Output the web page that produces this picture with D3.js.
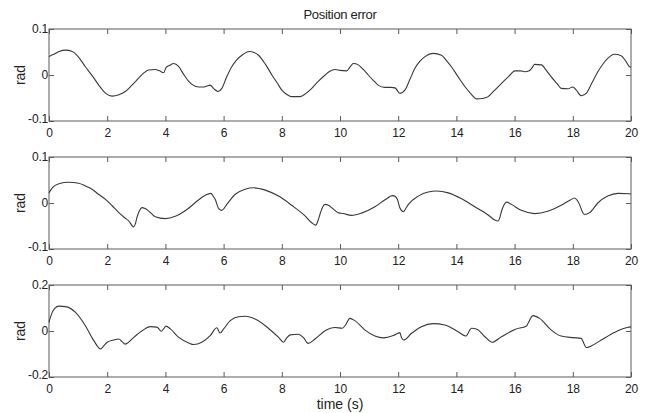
<!DOCTYPE html>
<html>
<head>
<meta charset="utf-8">
<script src="https://cdn.jsdelivr.net/npm/d3@7/dist/d3.min.js"></script>
<style>
  html, body { margin: 0; padding: 0; background: #fff; }
  svg { display: block; }
  text { font-family: "Liberation Sans", Arial, sans-serif; fill: #222; }
</style>
</head>
<body>
<svg id="chart" width="656" height="413"></svg>
<script>
// ---------------- data ----------------
const chartTitle = "Position error";
const xLabel = "time (s)";
const yLabel = "rad";
const xTicks = [0, 2, 4, 6, 8, 10, 12, 14, 16, 18, 20];

const yTicks1 = [-0.1, 0, 0.1];
const yTickLabels1 = ["-0.1", "0", "0.1"];
const yTicks2 = [-0.1, 0, 0.1];
const yTickLabels2 = ["-0.1", "0", "0.1"];
const yTicks3 = [-0.2, 0, 0.2];
const yTickLabels3 = ["-0.2", "0", "0.2"];

const errorJoint1 = [
  [0,0.040],[0.05,0.042],[0.17,0.045],[0.35,0.051],[0.57,0.054],[0.8,0.051],[1.0,0.040],[1.25,0.018],
  [1.5,-0.003],[1.71,-0.022],[1.95,-0.040],[2.17,-0.046],[2.4,-0.043],[2.62,-0.036],[2.85,-0.022],
  [3.08,-0.007],[3.25,0.004],[3.42,0.011],[3.65,0.012],[3.8,0.009],[3.94,0.005],[4.02,0.016],[4.15,0.021],
  [4.28,0.025],[4.46,0.018],[4.62,0.002],[4.8,-0.014],[4.95,-0.022],[5.14,-0.026],[5.3,-0.026],[5.42,-0.024],
  [5.54,-0.022],[5.65,-0.029],[5.81,-0.036],[5.94,-0.029],[6.1,-0.005],[6.28,0.018],[6.45,0.033],[6.63,0.043],
  [6.88,0.051],[7.05,0.049],[7.2,0.043],[7.45,0.022],[7.66,0.0],[7.85,-0.018],[8.0,-0.033],[8.17,-0.042],
  [8.34,-0.047],[8.63,-0.047],[8.83,-0.040],[9.03,-0.029],[9.25,-0.014],[9.49,0.0],[9.65,0.008],[9.83,0.012],
  [10.0,0.010],[10.23,0.009],[10.34,0.017],[10.46,0.025],[10.63,0.022],[10.8,0.012],[10.97,0.0],[11.15,-0.012],
  [11.31,-0.022],[11.54,-0.027],[11.75,-0.027],[11.89,-0.028],[12.06,-0.040],[12.23,-0.033],[12.4,-0.010],
  [12.57,0.014],[12.75,0.030],[12.92,0.040],[13.2,0.047],[13.49,0.043],[13.65,0.032],[13.83,0.018],[14.05,-0.003],
  [14.29,-0.025],[14.5,-0.041],[14.69,-0.052],[14.9,-0.051],[15.09,-0.047],[15.3,-0.034],[15.55,-0.018],
  [15.8,-0.003],[16.01,0.009],[16.2,0.009],[16.35,0.007],[16.5,0.009],[16.58,0.014],[16.69,0.023],[16.92,0.022],
  [17.1,0.009],[17.26,-0.004],[17.45,-0.018],[17.6,-0.029],[17.83,-0.030],[18.0,-0.026],[18.12,-0.033],
  [18.29,-0.045],[18.46,-0.040],[18.65,-0.018],[18.86,0.007],[19.05,0.025],[19.2,0.036],[19.43,0.045],
  [19.66,0.042],[19.8,0.032],[19.95,0.018],[20,0.017]
];

const errorJoint2 = [
  [0,0.022],[0.11,0.033],[0.34,0.042],[0.68,0.045],[1.02,0.043],[1.25,0.037],[1.48,0.030],[1.7,0.019],
  [1.94,0.008],[2.17,-0.006],[2.4,-0.021],[2.6,-0.032],[2.74,-0.039],[2.91,-0.052],[2.97,-0.045],[3.02,-0.032],
  [3.1,-0.018],[3.2,-0.010],[3.3,-0.012],[3.42,-0.017],[3.65,-0.030],[4.0,-0.034],[4.34,-0.029],[4.68,-0.017],
  [5.03,0.001],[5.37,0.017],[5.56,0.021],[5.65,0.014],[5.71,0.008],[5.83,-0.012],[5.94,-0.016],[6.11,-0.003],
  [6.4,0.019],[6.74,0.030],[7.03,0.033],[7.43,0.028],[7.89,0.015],[8.34,-0.005],[8.8,-0.028],[9.03,-0.043],
  [9.17,-0.048],[9.25,-0.037],[9.31,-0.025],[9.4,-0.009],[9.49,-0.003],[9.6,-0.005],[9.71,-0.010],[9.94,-0.021],
  [10.11,-0.023],[10.40,-0.027],[10.74,-0.022],[11.2,-0.008],[11.55,0.007],[11.8,0.016],[11.9,0.014],
  [11.97,0.008],[12.06,-0.011],[12.18,-0.019],[12.25,-0.013],[12.35,-0.003],[12.69,0.015],[13.03,0.024],
  [13.32,0.026],[13.72,0.022],[14.18,0.009],[14.63,-0.008],[15.09,-0.026],[15.32,-0.037],[15.43,-0.039],
  [15.5,-0.030],[15.55,-0.018],[15.63,-0.005],[15.72,0.002],[15.89,-0.003],[16.23,-0.016],[16.69,-0.023],
  [17.14,-0.018],[17.6,-0.005],[17.9,0.006],[18.06,0.011],[18.15,0.006],[18.23,-0.003],[18.32,-0.018],
  [18.4,-0.025],[18.58,-0.021],[18.86,0.0],[19.2,0.015],[19.55,0.021],[19.95,0.020],[20,0.019]
];

const errorJoint3 = [
  [0,0.038],[0.11,0.081],[0.2,0.098],[0.34,0.108],[0.57,0.106],[0.91,0.081],[1.25,0.023],[1.54,-0.042],
  [1.77,-0.078],[1.88,-0.065],[2.0,-0.049],[2.23,-0.039],[2.4,-0.035],[2.51,-0.046],[2.62,-0.057],[2.7,-0.052],
  [2.85,-0.035],[3.2,0.001],[3.48,0.019],[3.71,0.017],[3.86,-0.001],[3.94,0.009],[4.02,0.021],[4.17,0.009],
  [4.46,-0.028],[4.8,-0.052],[4.97,-0.059],[5.25,-0.049],[5.54,-0.020],[5.77,0.014],[5.88,-0.009],[6.0,0.009],
  [6.23,0.045],[6.51,0.062],[6.74,0.064],[7.08,0.052],[7.54,0.012],[7.89,-0.028],[8.06,-0.049],[8.17,-0.030],
  [8.29,-0.017],[8.57,-0.014],[8.74,-0.028],[8.91,-0.054],[9.14,-0.035],[9.49,0.001],[9.83,0.015],[10.08,0.012],
  [10.19,0.026],[10.34,0.055],[10.51,0.045],[10.86,0.004],[11.2,-0.022],[11.49,-0.030],[11.83,-0.020],
  [12.06,-0.007],[12.11,-0.028],[12.2,-0.039],[12.46,-0.010],[12.8,0.019],[13.2,0.032],[13.6,0.026],
  [14.06,-0.003],[14.32,-0.022],[14.52,0.012],[14.72,0.007],[14.98,-0.025],[15.23,-0.049],[15.55,-0.025],
  [16.01,0.007],[16.41,0.022],[16.46,0.033],[16.63,0.067],[16.86,0.055],[17.26,0.004],[17.6,-0.022],
  [18.0,-0.029],[18.29,-0.032],[18.38,-0.054],[18.46,-0.072],[18.63,-0.065],[18.98,-0.039],[19.43,-0.006],
  [19.9,0.016],[20,0.018]
];

// ---------------- drawing ----------------
const svg = d3.select("#chart");
svg.append("rect").attr("width", 656).attr("height", 413).attr("fill", "#fff");

const left = 49, right = 631, ph = 92;
const x = d3.scaleLinear().domain([0, 20]).range([left, right]);

const panels = [
  { top: 29,  data: errorJoint1, ticks: yTicks1, labels: yTickLabels1 },
  { top: 157, data: errorJoint2, ticks: yTicks2, labels: yTickLabels2 },
  { top: 285, data: errorJoint3, ticks: yTicks3, labels: yTickLabels3 }
];

const frameColor = "#5a5a5a";
const lineColor = "#383838";

panels.forEach((p, i) => {
  const y = d3.scaleLinear().domain([p.ticks[0], p.ticks[p.ticks.length - 1]]).range([p.top + ph, p.top]);
  const g = svg.append("g");

  // frame
  g.append("rect")
    .attr("x", left).attr("y", p.top).attr("width", right - left).attr("height", ph)
    .attr("fill", "none").attr("stroke", frameColor).attr("stroke-width", 1);

  const fmtY = d => p.labels[p.ticks.indexOf(d)];

  const styleAxis = sel => {
    sel.select(".domain").remove();
    sel.selectAll(".tick line").attr("stroke", frameColor).attr("stroke-width", 1);
    sel.selectAll(".tick text").attr("fill", "#222").style("font-size", "12px").style("letter-spacing", "-0.2px");
  };

  // bottom axis with labels
  g.append("g").attr("transform", `translate(0,${p.top + ph})`)
    .call(d3.axisBottom(x).tickValues(xTicks).tickFormat(d3.format("d")).tickSize(-5).tickSizeOuter(0).tickPadding(7))
    .call(styleAxis);
  // top axis ticks
  g.append("g").attr("transform", `translate(0,${p.top})`)
    .call(d3.axisTop(x).tickValues(xTicks).tickFormat("").tickSize(-5).tickSizeOuter(0))
    .call(styleAxis);
  // left axis with labels
  const la = g.append("g").attr("transform", `translate(${left},0)`)
    .call(d3.axisLeft(y).tickValues(p.ticks).tickFormat(fmtY).tickSize(-5).tickSizeOuter(0).tickPadding(1))
    .call(styleAxis);
  // nudge the lowest label up slightly so it clears the "0" of the time axis
  la.selectAll(".tick text").filter(d => d === p.ticks[0]).attr("y", -2);
  // right axis ticks
  g.append("g").attr("transform", `translate(${right},0)`)
    .call(d3.axisRight(y).tickValues(p.ticks).tickFormat("").tickSize(-5).tickSizeOuter(0))
    .call(styleAxis);

  // y label
  g.append("text")
    .attr("transform", `translate(25,${p.top + ph / 2}) rotate(-90)`)
    .attr("text-anchor", "middle")
    .style("font-size", "14px")
    .text(yLabel);

  // line
  const line = d3.line().x(d => x(d[0])).y(d => y(d[1])).curve(d3.curveMonotoneX);
  g.append("path").datum(p.data)
    .attr("d", line)
    .attr("fill", "none").attr("stroke", lineColor).attr("stroke-width", 1.1);
});

// title
svg.append("text")
  .attr("x", (left + right) / 2).attr("y", 19)
  .attr("text-anchor", "middle")
  .style("font-size", "13px")
  .style("letter-spacing", "-0.3px")
  .text(chartTitle);

// x label
svg.append("text")
  .attr("x", (left + right) / 2).attr("y", 409)
  .attr("text-anchor", "middle")
  .style("font-size", "14px")
  .text(xLabel);
</script>
</body>
</html>
